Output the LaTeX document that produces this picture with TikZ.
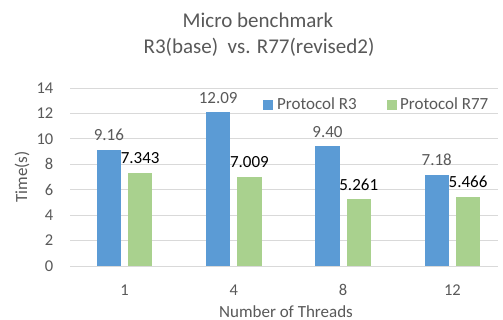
\documentclass[tikz,border=0pt]{standalone}
\usepackage{fontspec}
\setmainfont{Carlito}
\definecolor{barblue}{HTML}{5B9BD5}
\definecolor{bargreen}{HTML}{A9D18E}
\definecolor{gridgray}{HTML}{D9D9D9}
\definecolor{textgray}{HTML}{595959}
\tikzset{
  gridline/.style={draw=gridgray, line width=0.9pt},
  barR3/.style={fill=barblue, draw=none},
  barR77/.style={fill=bargreen, draw=none},
  ticklabel/.style={text=textgray, font=\fontsize{16.5}{18}\selectfont, inner sep=0pt},
  vallabelA/.style={text=textgray, font=\fontsize{17}{19}\selectfont, inner sep=0pt, anchor=base},
  vallabelB/.style={text=black, font=\fontsize{17}{19}\selectfont, inner sep=0pt, anchor=base},
  axistitle/.style={text=textgray, font=\fontsize{17}{19}\selectfont, inner sep=0pt},
  titletext/.style={text=textgray, font=\fontsize{21}{24}\selectfont, inner sep=0pt, anchor=base},
  legendtext/.style={text=textgray, font=\fontsize{17}{19}\selectfont, inner sep=0pt, anchor=base west},
}
\begin{document}
\begin{tikzpicture}[x=1pt, y=-1pt]
  \useasboundingbox[fill=white] (0,0) rectangle (503,320);

  % chart title
  \node[titletext] (title1) at (258,27.7) {Micro benchmark};
  \node[titletext] (title2) at (259,53.3) {R3(base)\ \ vs. R77(revised2)};

  % horizontal gridlines and value axis labels (0..14 step 2)
  \foreach \v in {0,2,...,14} {
    \pgfmathsetmacro{\yy}{266-12.714*\v}
    \draw[gridline] (70,\yy) -- (498,\yy);
    \node[ticklabel, anchor=east] (ytick\v) at (53.5,\yy) {\v};
  }

  % bars: category centre, label, R3 value, R77 value
  \foreach \c/\lab/\a/\b/\al/\bl [count=\i] in
     {124.5/1/9.16/7.343/9.16/7.343,
      233.8/4/12.09/7.009/12.09/7.009,
      343.1/8/9.40/5.261/9.40/5.261,
      452.4/12/7.18/5.466/7.18/5.466} {
    \pgfmathsetmacro{\ta}{266-12.714*\a}
    \pgfmathsetmacro{\tb}{266-12.714*\b}
    \path[barR3]  (\c-27.8,266) rectangle (\c-3.5,\ta);
    \path[barR77] (\c+3.5,266) rectangle (\c+27.8,\tb);
    \node[vallabelA] (va\i) at (\c-15.65,\ta-9) {\al};
    \node[vallabelB] (vb\i) at (\c+15.65,\tb-9) {\bl};
    \node[ticklabel, anchor=base] (xtick\i) at (\c,295.3) {\lab};
  }

  % axis titles
  \node[axistitle, anchor=base] (xtitle) at (286,317.2) {Number of Threads};
  \node[axistitle, rotate=90] (ytitle) at (22,177) {Time(s)};

  % legend
  \path[barR3] (263,100) rectangle (273,110);
  \node[legendtext] (legR3) at (277,109.3) {Protocol R3};
  \path[barR77] (386.7,100) rectangle (396.7,110);
  \node[legendtext] (legR77) at (400,109.3) {Protocol R77};
\end{tikzpicture}
\end{document}
